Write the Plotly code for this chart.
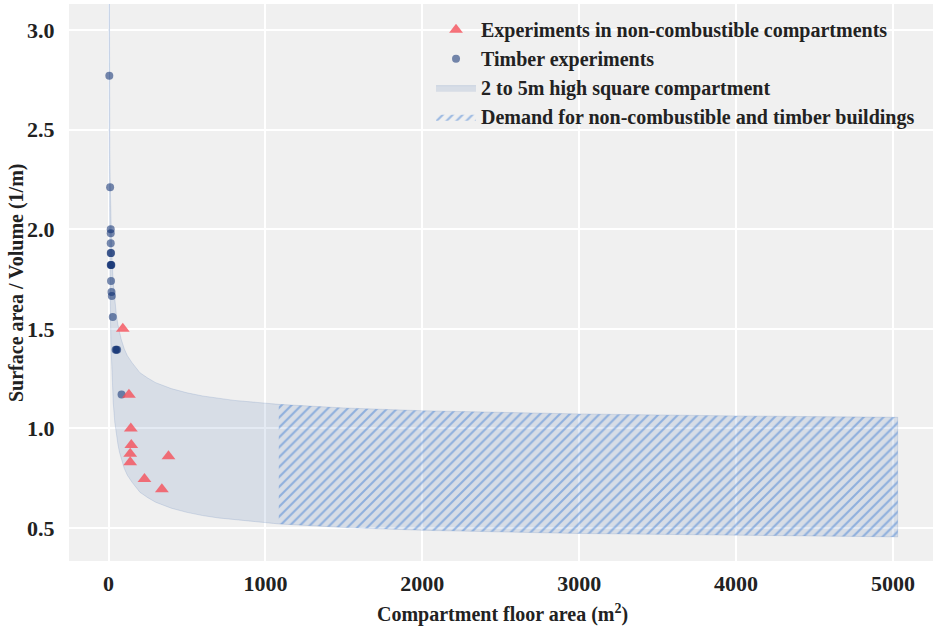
import plotly.graph_objects as go

# Band: 2 to 5 m high square compartment
band_area = [1, 2, 3, 4, 6, 8, 10, 15, 20, 30, 40, 50, 60, 70, 80, 100, 120, 150, 200, 250, 300,
             400, 500, 600, 700, 800, 1085, 1500, 2000, 3000, 4000, 5030]
band_upper = [5.0, 3.83, 3.31, 3.0, 2.63, 2.41, 2.26, 2.03, 1.89, 1.73, 1.63, 1.57, 1.52, 1.48,
              1.45, 1.40, 1.365, 1.33, 1.28, 1.253, 1.23, 1.20, 1.179, 1.163, 1.151, 1.141,
              1.121, 1.103, 1.089, 1.073, 1.063, 1.056]
band_lower = [4.4, 3.23, 2.71, 2.4, 2.03, 1.81, 1.66, 1.43, 1.29, 1.13, 1.03, 0.97, 0.92, 0.88,
              0.85, 0.80, 0.765, 0.73, 0.68, 0.653, 0.63, 0.60, 0.579, 0.563, 0.551, 0.541,
              0.521, 0.503, 0.489, 0.473, 0.463, 0.456]
demand_start = 1085

# Timber experiments
timber_area = [5, 10, 14, 14, 14, 14, 16, 14, 16, 18, 16, 19, 21, 27, 45, 50, 55, 83]
timber_sv = [2.77, 2.21, 2.0, 1.98, 1.93, 1.88, 1.88, 1.82, 1.82, 1.82, 1.74, 1.685, 1.665,
             1.56, 1.395, 1.395, 1.395, 1.17]

# Experiments in non-combustible compartments
nc_area = [91, 130, 142, 145, 138, 138, 382, 229, 340]
nc_sv = [1.5, 1.169, 1.0, 0.917, 0.873, 0.83, 0.861, 0.747, 0.695]

FONT = "Liberation Serif"
TXT = "#222222"

fig = go.Figure()

# band polygon
fig.add_trace(go.Scatter(
    x=band_area + band_area[::-1],
    y=band_upper + band_lower[::-1],
    fill="toself", mode="lines",
    fillcolor="rgba(76,114,176,0.15)",
    line=dict(color="rgba(76,114,176,0.18)", width=1),
    name="2 to 5m high square compartment",
    legendrank=3,
    hoverinfo="skip",
))

# hatched demand region
idx = [i for i, a in enumerate(band_area) if a >= demand_start]
hx = [band_area[i] for i in idx]
hu = [band_upper[i] for i in idx]
hl = [band_lower[i] for i in idx]
fig.add_trace(go.Scatter(
    x=hx + hx[::-1],
    y=hu + hl[::-1],
    fill="toself", mode="lines",
    fillcolor="rgba(0,0,0,0)",
    fillpattern=dict(shape="/", fgcolor="rgba(70,130,212,1)", bgcolor="rgba(0,0,0,0)",
                     size=7, solidity=0.3),
    line=dict(color="rgba(0,0,0,0)", width=0),
    name="Demand for non-combustible and timber buildings",
    legendrank=4,
    hoverinfo="skip",
))

fig.add_trace(go.Scatter(
    x=timber_area, y=timber_sv, mode="markers",
    marker=dict(symbol="circle", size=8, color="rgba(11,43,112,0.55)", line=dict(width=0)),
    name="Timber experiments",
    legendrank=2,
))

fig.add_trace(go.Scatter(
    x=nc_area, y=nc_sv, mode="markers",
    marker=dict(symbol="triangle-up", size=12, color="rgba(245,80,90,0.8)", line=dict(width=0)),
    name="Experiments in non-combustible compartments",
    legendrank=1,
))

fig.update_layout(
    width=933, height=626,
    margin=dict(l=69, r=0, t=4, b=65),
    paper_bgcolor="white",
    plot_bgcolor="#f0f0f0",
    font=dict(family=FONT, size=20, color=TXT),
    showlegend=True,
    legend=dict(
        x=0.419, y=0.989, xanchor="left", yanchor="top",
        bgcolor="rgba(0,0,0,0)",
        font=dict(family=FONT, size=20, color=TXT, weight="bold"),
        itemwidth=40,
    ),
    xaxis=dict(
        range=[-252, 5255],
        tickvals=[0, 1000, 2000, 3000, 4000, 5000],
        showgrid=True, gridcolor="white", gridwidth=1.5,
        zeroline=False, showline=False, automargin=False,
        ticks="outside", ticklen=3, tickcolor="rgba(0,0,0,0)",
        tickfont=dict(family=FONT, size=22, color=TXT, weight="bold"),
    ),
    yaxis=dict(
        range=[0.335, 3.13],
        tickvals=[0.5, 1.0, 1.5, 2.0, 2.5, 3.0],
        tickformat=".1f",
        showgrid=True, gridcolor="white", gridwidth=1.5,
        zeroline=False, showline=False, automargin=False,
        ticks="outside", ticklen=9, tickcolor="rgba(0,0,0,0)",
        tickfont=dict(family=FONT, size=22, color=TXT, weight="bold"),
    ),
    annotations=[
        dict(text="Surface area / Volume (1/m)", textangle=-90,
             x=-(69 - 16) / 864, xref="paper", xanchor="center",
             y=(561 - 283) / 557, yref="paper", yanchor="middle",
             showarrow=False,
             font=dict(family=FONT, size=20, color=TXT, weight="bold")),
        dict(text="Compartment floor area (m<sup>2</sup>)",
             x=(502 - 69) / 864, xref="paper", xanchor="center",
             y=-(613 - 561) / 557, yref="paper", yanchor="middle",
             showarrow=False,
             font=dict(family=FONT, size=20, color=TXT, weight="bold")),
    ],
)

fig.write_html(
    "out.html",
    config={"displayModeBar": False},
    post_script="document.body.style.margin='0';document.body.style.overflow='hidden';",
)
